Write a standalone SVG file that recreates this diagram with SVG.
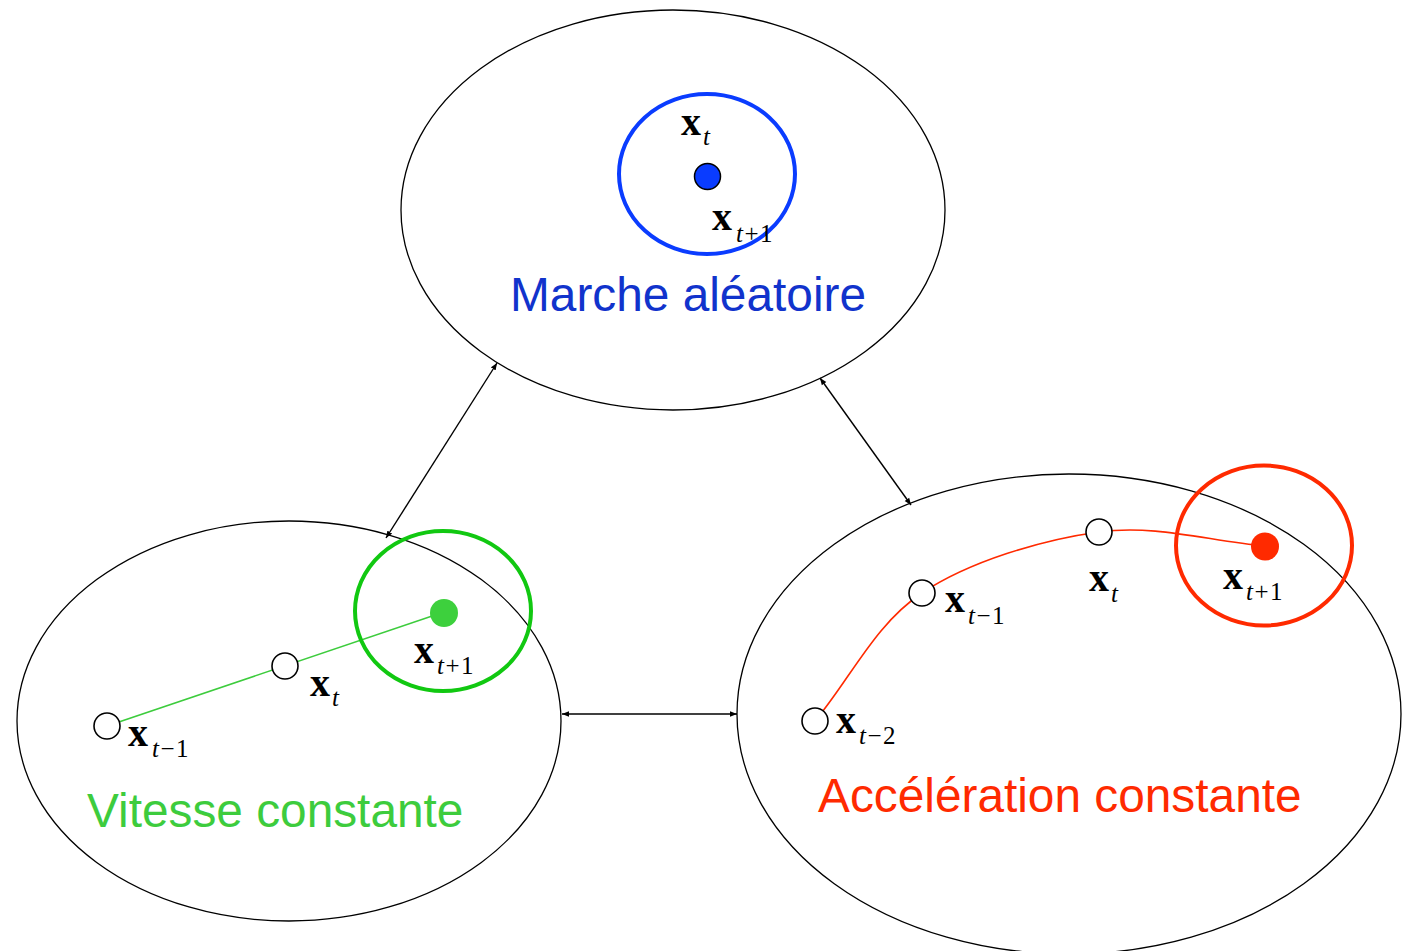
<svg xmlns="http://www.w3.org/2000/svg" width="1412" height="951" viewBox="0 0 1412 951">
  <style>
    .frame { fill: none; stroke: #000; stroke-width: 1.3; }
    .link { fill: none; stroke: #000; stroke-width: 1.4; marker-start: url(#tip); marker-end: url(#tip); }
    .open { fill: #fff; stroke: #000; stroke-width: 1.6; }
    .sym { font-family: "Liberation Serif", "Times New Roman", serif; font-weight: bold; font-size: 40px; fill: #000; }
    .sub { font-family: "Liberation Serif", "Times New Roman", serif; font-style: italic; font-size: 25px; letter-spacing: 1.5px; fill: #000; }
    .num { font-style: normal; }
    .title { font-family: "Liberation Sans", Arial, sans-serif; font-size: 47.8px; }
  </style>
  <defs>
    <marker id="tip" viewBox="0 0 10 10" refX="10" refY="5" markerWidth="7" markerHeight="7" orient="auto-start-reverse" markerUnits="userSpaceOnUse">
      <path d="M0,1 L10,5 L0,9 Z" fill="#000"/>
    </marker>
  </defs>
  <rect width="1412" height="951" fill="#fff"/>

  <!-- links between the three models -->
  <g id="connectors">
    <line class="link" x1="386" y1="538" x2="497" y2="363"/>
    <line class="link" x1="820" y1="378" x2="911" y2="505"/>
    <line class="link" x1="562" y1="714" x2="737" y2="714"/>
  </g>

  <!-- random walk -->
  <g id="marche-aleatoire">
    <ellipse class="frame" cx="673" cy="210" rx="272" ry="200"/>
    <ellipse cx="707" cy="174" rx="88" ry="80" fill="none" stroke="#0a3cff" stroke-width="4"/>
    <circle cx="707.5" cy="176.5" r="13" fill="#0a3cff" stroke="#000" stroke-width="1.5"/>
    <text class="sym" x="681" y="135">x</text><text class="sub" x="703" y="145">t</text>
    <text class="sym" x="712" y="230">x</text><text class="sub" x="736" y="242">t<tspan class="num">+1</tspan></text>
    <text class="title" x="510" y="311" fill="#1133cc">Marche aléatoire</text>
  </g>

  <!-- constant velocity -->
  <g id="vitesse-constante">
    <ellipse class="frame" cx="289" cy="721" rx="272" ry="200"/>
    <line x1="107" y1="726" x2="444" y2="612" stroke="#3dcc3d" stroke-width="1.6"/>
    <ellipse cx="443" cy="611" rx="88" ry="80" fill="none" stroke="#11c811" stroke-width="4"/>
    <circle cx="444" cy="613" r="14" fill="#3dd03d"/>
    <circle class="open" cx="107" cy="726" r="13"/>
    <circle class="open" cx="285" cy="666" r="13"/>
    <text class="sym" x="128" y="746">x</text><text class="sub" x="152" y="757">t<tspan class="num">−1</tspan></text>
    <text class="sym" x="310" y="696">x</text><text class="sub" x="332" y="706">t</text>
    <text class="sym" x="414" y="663">x</text><text class="sub" x="437" y="674">t<tspan class="num">+1</tspan></text>
    <text class="title" x="87" y="827" fill="#3dcc3d">Vitesse constante</text>
  </g>

  <!-- constant acceleration -->
  <g id="acceleration-constante">
    <ellipse class="frame" cx="1069" cy="714" rx="332" ry="240"/>
    <path d="M815,721 C850.7,678.3 874.7,624.5 922,593 C969.3,561.5 1041.8,539.8 1099,532 C1156.2,524.2 1209.7,541.3 1265,546" fill="none" stroke="#ff2a00" stroke-width="1.6"/>
    <ellipse cx="1264" cy="545.5" rx="88" ry="80" fill="none" stroke="#ff2a00" stroke-width="4"/>
    <circle cx="1265" cy="546.5" r="14" fill="#ff2a00"/>
    <circle class="open" cx="815" cy="721" r="13"/>
    <circle class="open" cx="922" cy="593" r="13"/>
    <circle class="open" cx="1099" cy="532" r="13"/>
    <text class="sym" x="836" y="733">x</text><text class="sub" x="859" y="744">t<tspan class="num">−2</tspan></text>
    <text class="sym" x="945" y="612">x</text><text class="sub" x="968" y="624">t<tspan class="num">−1</tspan></text>
    <text class="sym" x="1089" y="591">x</text><text class="sub" x="1111" y="602">t</text>
    <text class="sym" x="1223" y="589">x</text><text class="sub" x="1246" y="600">t<tspan class="num">+1</tspan></text>
    <text class="title" x="818" y="812" fill="#ff2a00">Accélération constante</text>
  </g>
</svg>
